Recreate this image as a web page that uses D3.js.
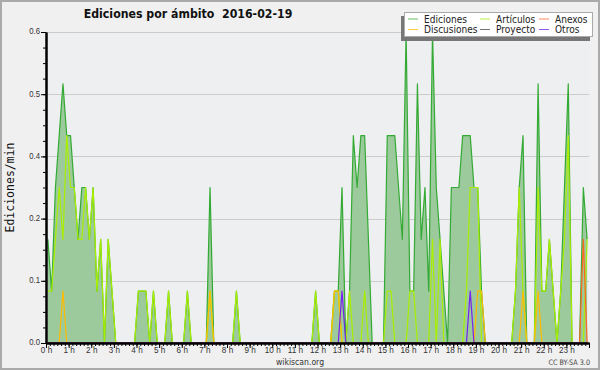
<!DOCTYPE html>
<html>
<head>
<meta charset="utf-8">
<script src="https://cdn.jsdelivr.net/npm/d3@7/dist/d3.min.js"></script>
<style>
body { margin: 0; background: #f0f0f0; }
svg { display: block; font-family: "DejaVu Sans", sans-serif; }
</style>
</head>
<body>
<svg id="chart"></svg>
<script>
var title = "Ediciones por ámbito  2016-02-19";
var yTitle = "Ediciones/min";
var series = ["Ediciones", "Discusiones", "Artículos", "Proyecto", "Anexos", "Otros"];
var colors = ["#33aa33", "#ffbb00", "#aaee00", "#444444", "#ff6622", "#7722ee"];
var hourLabels = ["0 h", "1 h", "2 h", "3 h", "4 h", "5 h", "6 h", "7 h", "8 h", "9 h", "10 h", "11 h",
	"12 h", "13 h", "14 h", "15 h", "16 h", "17 h", "18 h", "19 h", "20 h", "21 h", "22 h", "23 h"];
var yTicks = [0, 0.12, 0.24, 0.36, 0.48, 0.6];
var binMinutes = 10;

// one value per 10 minutes, 12 per line = 2 hours
var ediciones = [
	0.2,0.1,0.3,0.4,0.5,0.4,0.4,0.3,0.2,0.3,0.3,0.2,
	0.3,0.1,0.2,0,0.2,0.1,0,0,0,0,0,0,
	0.1,0.1,0.1,0,0.1,0,0,0,0.1,0,0,0,
	0,0.1,0,0,0,0,0,0.3,0,0,0,0,
	0,0,0.1,0,0,0,0,0,0,0,0,0,
	0,0,0,0,0,0,0,0,0,0,0,0.1,
	0,0,0,0,0.1,0.1,0.3,0,0.1,0.4,0.3,0.4,
	0.4,0.2,0,0,0,0,0.4,0.4,0.4,0.3,0.2,0.6,
	0.1,0.1,0.5,0.2,0.3,0.1,0.6,0.3,0.2,0.1,0,0.3,
	0.3,0.3,0.4,0.4,0.4,0.3,0.3,0.1,0,0,0,0,
	0,0,0,0,0.1,0.3,0.4,0,0,0,0.5,0.1,
	0.1,0.2,0.1,0,0.1,0.3,0.5,0,0,0,0.3,0.2
];
var discusiones = [
	0,0,0,0,0.1,0,0,0,0,0,0,0,
	0,0,0,0,0,0,0,0,0,0,0,0,
	0,0,0,0,0,0,0,0,0,0,0,0,
	0,0,0,0,0,0,0,0.1,0,0,0,0,
	0,0,0,0,0,0,0,0,0,0,0,0,
	0,0,0,0,0,0,0,0,0,0,0,0,
	0,0,0,0,0.1,0.1,0,0,0,0,0,0,
	0,0,0,0,0,0,0,0,0,0,0,0,
	0,0,0,0,0,0,0,0,0,0,0,0,
	0,0,0,0,0,0,0.1,0.1,0,0,0,0,
	0,0,0,0,0,0,0.1,0,0,0,0.1,0,
	0,0,0,0,0,0,0,0,0,0,0,0
];
var articulos = [
	0.1,0.1,0.2,0.3,0.2,0.4,0.3,0.3,0.2,0.2,0.3,0.2,
	0.3,0.1,0.2,0,0.2,0.1,0,0,0,0,0,0,
	0.1,0.1,0.1,0,0.1,0,0,0,0.1,0,0,0,
	0,0.1,0,0,0,0,0,0.1,0,0,0,0,
	0,0,0.1,0,0,0,0,0,0,0,0,0,
	0,0,0,0,0,0,0,0,0,0,0,0.1,
	0,0,0,0,0.1,0.1,0,0,0.1,0,0,0,
	0.1,0,0,0,0,0,0.1,0.1,0,0,0,0,
	0.1,0.1,0,0,0,0,0.2,0,0.2,0,0,0,
	0,0,0,0.1,0.3,0.3,0.3,0,0,0,0,0,
	0,0,0,0,0.1,0.3,0.1,0,0,0,0.3,0.1,
	0.1,0.2,0.1,0,0.1,0.2,0.4,0,0,0,0,0.2
];
var proyecto = [
	0,0,0,0,0,0,0,0,0,0,0,0,
	0,0,0,0,0,0,0,0,0,0,0,0,
	0,0,0,0,0,0,0,0,0,0,0,0,
	0,0,0,0,0,0,0,0,0,0,0,0,
	0,0,0,0,0,0,0,0,0,0,0,0,
	0,0,0,0,0,0,0,0,0,0,0,0,
	0,0,0,0,0,0,0,0,0,0,0,0,
	0,0,0,0,0,0,0,0,0,0,0,0,
	0,0,0,0,0,0,0,0,0,0,0,0,
	0,0,0,0,0,0,0,0,0,0,0,0,
	0,0,0,0,0,0,0,0,0,0,0,0,
	0,0,0,0,0,0,0,0,0,0,0,0
];
var anexos = [
	0,0,0,0,0,0,0,0,0,0,0,0,
	0,0,0,0,0,0,0,0,0,0,0,0,
	0,0,0,0,0,0,0,0,0,0,0,0,
	0,0,0,0,0,0,0,0,0,0,0,0,
	0,0,0,0,0,0,0,0,0,0,0,0,
	0,0,0,0,0,0,0,0,0,0,0,0,
	0,0,0,0,0,0,0,0,0,0,0,0,
	0,0,0,0,0,0,0,0,0,0,0,0,
	0,0,0,0,0,0,0,0,0,0,0,0,
	0,0,0,0,0,0,0,0,0,0,0,0,
	0,0,0,0,0,0,0,0,0,0,0,0,
	0,0,0,0,0,0,0,0,0,0,0.2,0
];
var otros = [
	0,0,0,0,0,0,0,0,0,0,0,0,
	0,0,0,0,0,0,0,0,0,0,0,0,
	0,0,0,0,0,0,0,0,0,0,0,0,
	0,0,0,0,0,0,0,0,0,0,0,0,
	0,0,0,0,0,0,0,0,0,0,0,0,
	0,0,0,0,0,0,0,0,0,0,0,0,
	0,0,0,0,0,0,0.1,0,0,0,0,0,
	0,0,0,0,0,0,0,0,0,0,0,0,
	0,0,0,0,0,0,0,0,0,0,0,0,
	0,0,0,0,0.1,0,0,0,0,0,0,0,
	0,0,0,0,0,0,0,0,0,0,0,0,
	0,0,0,0,0,0,0,0,0,0,0,0
];
var values = [ediciones, discusiones, articulos, proyecto, anexos, otros];

var W = 600, H = 370;
var plotL = 46, plotR = 589, plotT = 32, plotB = 343;
var narrow = "scale(0.86,1)";

var svg = d3.select("#chart").attr("width", W).attr("height", H);

// frame
svg.append("rect")
	.attr("x", 1).attr("y", 1)
	.attr("width", W - 2).attr("height", H - 2)
	.attr("fill", "#f0f0f0")
	.attr("stroke", "#aaaaaa")
	.attr("stroke-width", 2);

var x = d3.scaleLinear().domain([0, 24 * 60]).range([plotL, plotR]);
var y = d3.scaleLinear().domain([0, 0.6]).range([plotB, plotT]);

svg.append("rect")
	.attr("x", plotL).attr("y", plotT)
	.attr("width", plotR - plotL).attr("height", plotB - plotT)
	.attr("fill", "#eeeff1");

// grid
svg.append("g").selectAll("line")
	.data(yTicks.slice(1))
	.enter().append("line")
	.attr("x1", plotL).attr("x2", plotR)
	.attr("y1", function(d) { return Math.round(y(d)) + 0.5; })
	.attr("y2", function(d) { return Math.round(y(d)) + 0.5; })
	.style("stroke", "#cccccc")
	.style("stroke-width", 1);

function px(d, i) { return x(i * binMinutes + binMinutes / 2); }

var area = d3.area()
	.x(px)
	.y0(y(0))
	.y1(function(d) { return y(d); });
var line = d3.line()
	.x(px)
	.y(function(d) { return y(d); });

svg.append("path")
	.attr("d", area(ediciones))
	.attr("fill", "#9dca9d");

// total first, then the namespaces on top
var order = [0, 2, 1, 3, 4, 5];
order.forEach(function(s) {
	svg.append("path")
		.attr("d", line(values[s]))
		.attr("fill", "none")
		.attr("stroke", colors[s])
		.attr("stroke-width", 1.2)
		.attr("stroke-linejoin", "round");
});

// axes
var yAxis = d3.axisLeft(y).tickValues(yTicks).tickSize(5).tickSizeOuter(0).tickFormat(d3.format(".1f"));
var yMinor = d3.axisLeft(y).tickValues(d3.range(0, 0.6001, 0.03)).tickSize(3).tickSizeOuter(0).tickFormat("");
var xAxis = d3.axisBottom(x).tickValues(d3.range(0, 24 * 60 + 1, 60)).tickSize(5).tickSizeOuter(0)
	.tickFormat(function(d) { return hourLabels[d / 60] || ""; });
var xMinor = d3.axisBottom(x).tickValues(d3.range(0, 24 * 60 + 1, binMinutes)).tickSize(3).tickSizeOuter(0).tickFormat("");

function styleAxis(g, size) {
	g.selectAll("line").attr("stroke", "#000000");
	g.selectAll("path").attr("stroke", "#000000").attr("stroke-width", 2);
	g.selectAll("text").attr("fill", "#333333").style("font-size", size).attr("font-family", null);
}

svg.append("g").attr("transform", "translate(" + plotL + ",0)").call(yMinor).call(styleAxis, "9px");
svg.append("g").attr("transform", "translate(" + plotL + ",0)").call(yAxis).call(styleAxis, "9px")
	.selectAll("text").attr("x", -7).attr("dy", "0.2em").attr("transform", narrow);
svg.append("g").attr("transform", "translate(0," + plotB + ")").call(xMinor).call(styleAxis, "9.5px");
svg.append("g").attr("transform", "translate(0," + plotB + ")").call(xAxis).call(styleAxis, "9.5px")
	.selectAll("text").attr("y", 3).attr("transform", narrow);

// titles
svg.append("g").attr("transform", "translate(188,18) scale(0.88,1)")
	.append("text")
	.attr("text-anchor", "middle")
	.style("white-space", "pre")
	.style("font-size", "12.5px")
	.style("font-weight", "bold")
	.attr("fill", "#111111")
	.text(title);

svg.append("text")
	.attr("transform", "translate(14," + ((plotT + plotB) / 2) + ") rotate(-90)")
	.attr("text-anchor", "middle")
	.style("font-family", "DejaVu Sans Mono")
	.style("font-size", "11.5px")
	.attr("fill", "#111111")
	.text(yTitle);

svg.append("g").attr("transform", "translate(300,364.5) " + narrow)
	.append("text")
	.attr("text-anchor", "middle")
	.style("font-size", "9px")
	.attr("fill", "#333333")
	.text("wikiscan.org");

svg.append("g").attr("transform", "translate(590,365) " + narrow)
	.append("text")
	.attr("text-anchor", "end")
	.style("font-size", "7.5px")
	.attr("fill", "#444444")
	.text("CC BY-SA 3.0");

// legend
var lg = svg.append("g");
lg.append("rect")
	.attr("x", 401).attr("y", 16)
	.attr("width", 189).attr("height", 25)
	.attr("fill", "#777777");
lg.append("rect")
	.attr("x", 404.5).attr("y", 12.5)
	.attr("width", 188).attr("height", 24)
	.attr("fill", "#ffffff")
	.attr("stroke", "#aaaaaa");

var colX = [408, 480, 539];
var rowY = [19, 29.5];
series.forEach(function(name, i) {
	var cx = colX[Math.floor(i / 2)];
	var cy = rowY[i % 2];
	lg.append("line")
		.attr("x1", cx).attr("x2", cx + 10)
		.attr("y1", cy).attr("y2", cy)
		.attr("stroke", colors[i])
		.attr("stroke-opacity", 0.75)
		.attr("stroke-width", 1);
	lg.append("g")
		.attr("transform", "translate(" + (cx + 16) + "," + (cy + 3.5) + ") " + narrow)
		.append("text")
		.style("font-size", "10.5px")
		.attr("fill", "#222222")
		.text(name);
});
</script>
</body>
</html>
